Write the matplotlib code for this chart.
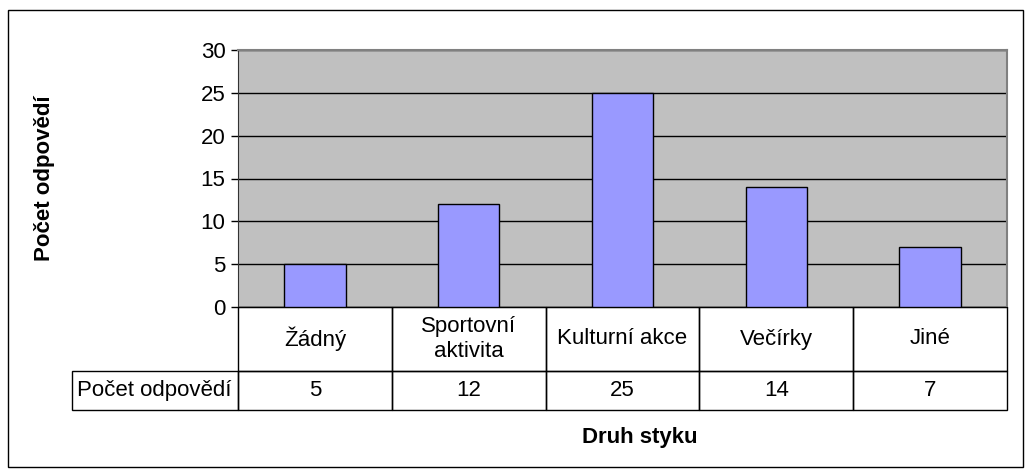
import matplotlib.pyplot as plt
import matplotlib.transforms as mtransforms
from matplotlib.patches import Rectangle

plt.rcParams['font.family'] = ['Liberation Sans', 'DejaVu Sans']

# data
categories = ['Žádný', 'Sportovní\naktivita', 'Kulturní akce', 'Večírky', 'Jiné']
values = [5, 12, 25, 14, 7]
series_name = 'Počet odpovědí'
yticks = [0, 5, 10, 15, 20, 25, 30]

FS = 16
W, H = 1032, 475
fig = plt.figure(figsize=(W / 100, H / 100), dpi=100)

# outer frame
fig.patches.append(Rectangle((8 / W, 1 - 467 / H), (1023 - 8) / W, (467 - 10) / H,
                             transform=fig.transFigure, fill=False,
                             edgecolor='black', linewidth=1))

# plot area
left, right, top, bottom = 238, 1007, 50, 307
ax = fig.add_axes([left / W, 1 - bottom / H, (right - left) / W, (bottom - top) / H])
ax.set_facecolor('#C0C0C0')

n = len(categories)
x = list(range(n))
ax.bar(x, values, width=0.4, color='#9999FF', edgecolor='black', linewidth=1, zorder=3)

ax.set_xlim(-0.5, n - 0.5)
ax.set_ylim(0, 30)
ax.set_yticks(yticks)
ax.yaxis.grid(True, color='black', linewidth=1)
ax.set_axisbelow(True)
ax.set_xticks([])
ax.tick_params(axis='y', direction='out', length=5, width=1, labelsize=FS, pad=4)
for s in ['top', 'right']:
    ax.spines[s].set_color('#808080')
    ax.spines[s].set_linewidth(1.5)
ax.spines['left'].set_color('#333333')
ax.spines['bottom'].set_color('black')

# data table below the plot (x in data units, y in axes units)
plot_w = right - left
plot_h = bottom - top
cat_w = plot_w / n
label_w = (238 - 72) / cat_w          # label column width in category units
row1 = 64 / plot_h                     # category row height
row2 = 39 / plot_h                     # value row height
tr = mtransforms.blended_transform_factory(ax.transData, ax.transAxes)


def cell(x0, y0, w, h, text, ha='center', pad=0.0):
    ax.add_patch(Rectangle((x0, y0), w, h, transform=tr, fill=False,
                           edgecolor='black', linewidth=1, clip_on=False))
    tx = x0 + w / 2 if ha == 'center' else x0 + pad
    ax.text(tx, y0 + h / 2, text, transform=tr, ha=ha, va='center',
            fontsize=FS, clip_on=False, linespacing=1.25)


for i, cat in enumerate(categories):
    cell(i - 0.5, -row1, 1, row1, cat)
    cell(i - 0.5, -row1 - row2, 1, row2, str(values[i]))
cell(-0.5 - label_w, -row1 - row2, label_w, row2, series_name, ha='left', pad=0.03)

# axis titles
fig.text(45 / W, 1 - (top + bottom) / 2 / H, 'Počet odpovědí', rotation=90,
         ha='center', va='center', fontsize=FS, fontweight='bold')
fig.text(640 / W, 1 - 438 / H, 'Druh styku', ha='center', va='center',
         fontsize=FS, fontweight='bold')

fig.savefig('out.png', dpi=100)
